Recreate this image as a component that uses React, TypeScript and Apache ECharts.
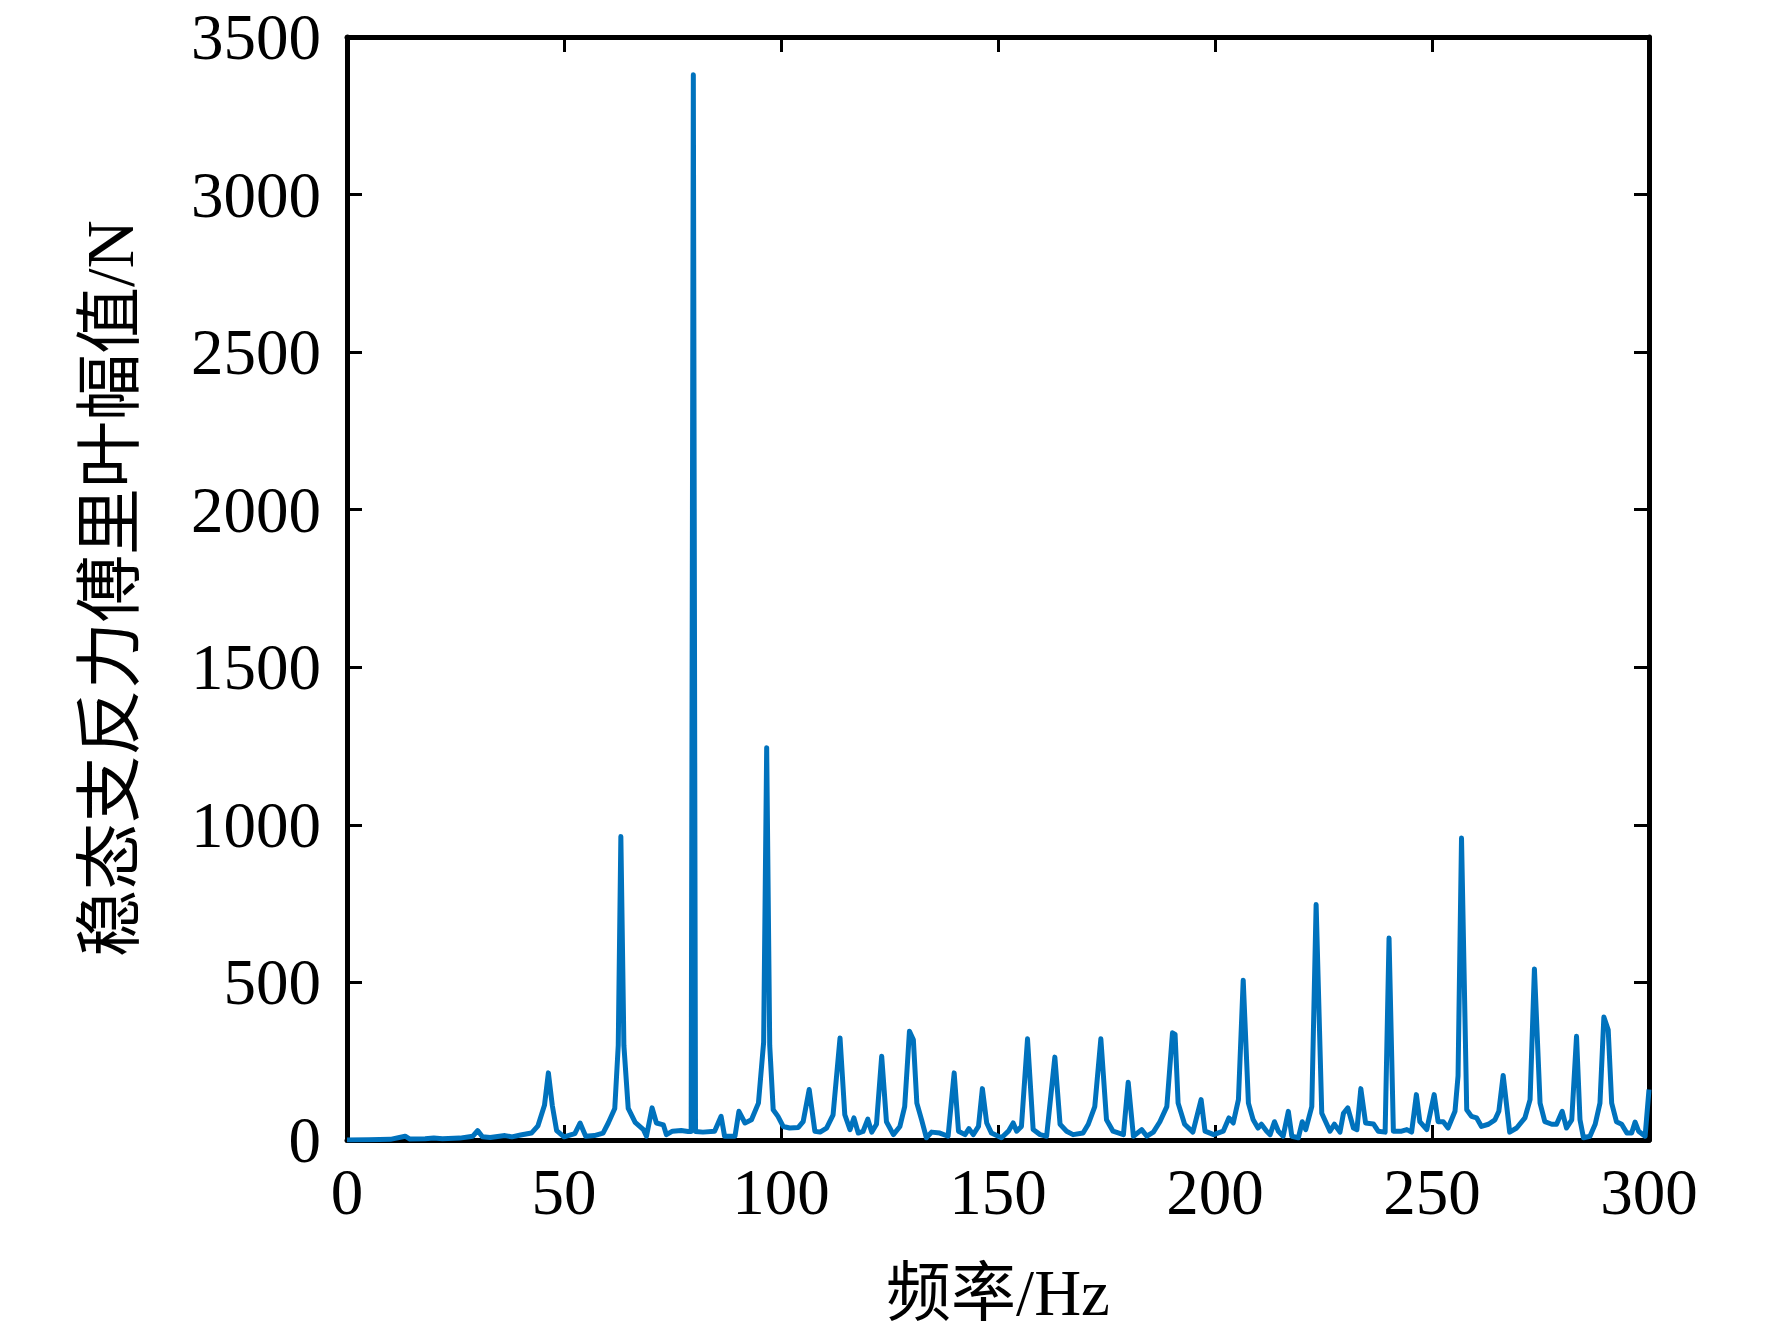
import React, { useEffect, useRef } from "react";
import * as echarts from "echarts";

const xTicks = [0, 50, 100, 150, 200, 250, 300];
const yTicks = [0, 500, 1000, 1500, 2000, 2500, 3000, 3500];

const freqs = [
  0, 5, 10, 13.4, 14.5, 18, 20, 22, 26, 29, 30.1, 31.2, 33, 36.4, 38, 40, 42.5, 44, 45.5, 46.4,
  47.3, 48.3, 50, 52.5, 53.7, 55, 57, 59, 60.2, 61.7, 62.5, 63.1, 63.8, 64.8, 66.4, 68.3, 69, 70.3,
  71.3, 72.9, 73.6, 75, 77, 78.6, 79.3, 79.8, 80.3, 82, 84.7, 86.2, 87, 89.4, 90.3, 91.7, 93.2, 94.8,
  96, 96.7, 97.4, 98.2, 99.3, 100.5, 102, 104, 105.1, 106.5, 107.8, 109, 110.5, 112, 113.6, 114.7,
  115.9, 116.8, 117.8, 118.9, 120, 120.9, 122, 123.2, 124.3, 125.9, 127.4, 128.5, 129.6, 130.5,
  131.3, 132.4, 133.5, 134.7, 136.6, 138.5, 139.9, 140.9, 142.4, 143.3, 144.3, 145.5, 146.4, 147.4,
  148.5, 150.8, 152.4, 153.5, 154.3, 155.4, 156.8, 158.1, 159.7, 161.2, 163.1, 164.3, 165.8, 167.3,
  169.6, 170.8, 172.3, 173.7, 175, 176.5, 178.9, 180, 181.2, 183.1, 184.3, 185.8, 187.3, 188.9,
  190.2, 190.8, 191.5, 193, 194.9, 196.8, 197.7, 199.7, 201.9, 203.2, 204.2, 205.4, 206.5, 207.7,
  208.8, 209.9, 210.7, 211.9, 212.7, 213.7, 214.6, 215.7, 216.9, 217.7, 219.2, 220.1, 220.9, 222.3,
  223.3, 224.6, 226.5, 227.5, 228.8, 229.6, 230.6, 231.9, 232.7, 233.6, 234.7, 236.5, 237.6, 239.2,
  240.1, 241.1, 243, 244.2, 245.3, 246.4, 247.2, 248.8, 250.5, 251.4, 252.6, 253.7, 255.3, 256,
  256.8, 258, 259.1, 260.3, 261.4, 263, 264.5, 265.4, 266.4, 267.9, 269.5, 271.4, 272.6, 273.6,
  274.9, 276, 277.6, 278.7, 280, 281, 282.2, 283.3, 284.1, 284.9, 286.4, 287.6, 288.7, 289.6, 290.6,
  291.4, 292.5, 293.7, 294.9, 296, 296.8, 297.6, 299.1, 300,
];

const amplitudes = [
  0, 1, 2, 12, 3, 4, 6, 4, 6, 12, 30, 10, 8, 14, 10, 16, 22, 45, 110, 213,
  110, 30, 10, 20, 54, 12, 14, 22, 54, 100, 300, 963, 300, 100, 56, 33, 12, 102,
  54, 48, 17, 28, 30, 27, 27, 3380, 27, 25, 28, 75, 12, 12, 91, 54, 64, 117,
  310, 1245, 300, 96, 75, 43, 38, 40, 58, 160, 28, 25, 38, 80, 324, 80,
  33, 70, 22, 27, 66, 25, 50, 266, 58, 17, 43, 106, 345, 318,
  117, 64, 7, 25, 22, 12, 213, 28, 17, 36, 17, 43, 163, 54,
  22, 7, 28, 54, 28, 43, 321, 33, 17, 12, 263, 50, 28, 17,
  22, 50, 106, 321, 64, 28, 17, 183, 12, 33, 12, 25, 58, 106,
  340, 335, 117, 50, 25, 128, 28, 17, 28, 70, 54, 128, 507, 117,
  64, 38, 50, 28, 17, 58, 28, 12, 91, 12, 7, 58, 33, 106,
  747, 85, 28, 50, 25, 85, 102, 38, 33, 163, 54, 51, 28, 25,
  641, 28, 28, 33, 25, 144, 58, 33, 144, 58, 58, 38, 91, 203,
  958, 96, 75, 70, 43, 50, 64, 91, 205, 25, 38, 70, 128, 543,
  117, 58, 50, 50, 91, 38, 64, 329, 64, 7, 12, 50, 117, 390, 350,
  117, 58, 50, 22, 22, 57, 28, 12, 160,
];

const xName = "频率/Hz";
const yName = "稳态支反力傅里叶幅值/N";

const FONT = '"Liberation Serif", "Noto Sans CJK SC", serif';

export default function App() {
  const ref = useRef<HTMLDivElement>(null);
  useEffect(() => {
    if (!ref.current) return;
    const chart = echarts.init(ref.current, undefined, { renderer: "svg" });
    const data = freqs.map((f, i) => [f, amplitudes[i]]);
    const axisLine = { show: true, onZero: false, lineStyle: { color: "#000", width: 5 } };
    const axisTick = { show: true, inside: true, length: 15, lineStyle: { color: "#000", width: 3 } };
    const xMin = xTicks[0];
    const xMax = xTicks[xTicks.length - 1];
    const xInt = xTicks[1] - xTicks[0];
    const yMin = yTicks[0];
    const yMax = yTicks[yTicks.length - 1];
    const yInt = yTicks[1] - yTicks[0];
    const plain = (v: number) => String(v);
    chart.setOption({
      animation: false,
      backgroundColor: "#fff",
      grid: { left: 347, top: 37, right: 123, bottom: 198, containLabel: false },
      xAxis: [
        {
          type: "value",
          position: "bottom",
          min: xMin,
          max: xMax,
          interval: xInt,
          axisLine,
          axisTick,
          splitLine: { show: false },
          axisLabel: { color: "#000", fontFamily: FONT, fontSize: 65, margin: 19, formatter: plain },
          name: xName,
          nameLocation: "middle",
          nameGap: 120,
          nameTextStyle: { color: "#000", fontFamily: FONT, fontSize: 65 },
        },
        {
          type: "value",
          position: "top",
          min: xMin,
          max: xMax,
          interval: xInt,
          axisLine,
          axisTick,
          splitLine: { show: false },
          axisLabel: { show: false },
        },
      ],
      yAxis: [
        {
          type: "value",
          position: "left",
          min: yMin,
          max: yMax,
          interval: yInt,
          axisLine,
          axisTick,
          splitLine: { show: false },
          axisLabel: { color: "#000", fontFamily: FONT, fontSize: 65, margin: 26, formatter: plain },
          name: yName,
          nameLocation: "middle",
          nameGap: 204,
          nameTextStyle: { color: "#000", fontFamily: FONT, fontSize: 67 },
        },
        {
          type: "value",
          position: "right",
          min: yMin,
          max: yMax,
          interval: yInt,
          axisLine,
          axisTick,
          splitLine: { show: false },
          axisLabel: { show: false },
        },
      ],
      series: [
        {
          type: "line",
          data,
          xAxisIndex: 0,
          yAxisIndex: 0,
          showSymbol: false,
          symbol: "none",
          lineStyle: { color: "#0072BD", width: 5, join: "round" },
          clip: true,
        },
      ],
    });
    return () => chart.dispose();
  }, []);
  return (
    <div
      ref={ref}
      style={{ position: "fixed", left: 0, top: 0, width: 1772, height: 1338, background: "#fff" }}
    />
  );
}
